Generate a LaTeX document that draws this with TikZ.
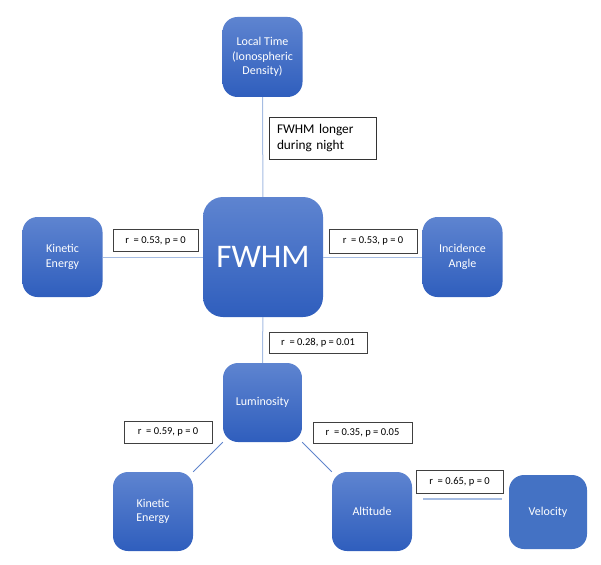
\documentclass[tikz,border=0pt]{standalone}
\usepackage{fontspec}
\setmainfont{Carlito}
\usepackage{tikz}
\usepackage{color}

\definecolor{boxtop}{RGB}{94,132,208}
\definecolor{boxbot}{RGB}{47,94,189}
\definecolor{boxflat}{RGB}{68,114,196}
\definecolor{linklight}{RGB}{165,188,226}
\definecolor{linkblue}{RGB}{96,132,204}

\begin{document}
\begin{tikzpicture}[x=1pt,y=-1pt,
	plain/.style={rounded corners=15pt,text=white,minimum width=80pt,minimum height=80pt,align=center,inner sep=2pt,font=\fontsize{12}{14.5}\selectfont},
	block/.style={plain,top color=boxtop,bottom color=boxbot},
	corr/.style={draw=black!75,line width=0.9pt,fill=white,inner sep=0pt,minimum height=22pt,font=\fontsize{10.5}{12}\selectfont},
	link/.style={draw=linklight,line width=1pt},
	diag/.style={draw=linkblue,line width=0.8pt}]
	\useasboundingbox (0,0) rectangle (601,564);
	\coordinate (c1) at (262.5,57);
	\coordinate (c2) at (263,257);
	\coordinate (c3) at (62.5,257);
	\coordinate (c4) at (462.5,257);
	\coordinate (c5) at (262.5,402.5);
	\coordinate (c6) at (153,511.5);
	\coordinate (c7) at (372,511.5);
	\node[block] (lt) at (c1){Local Time\\(Ionospheric\\Density)};
	\node[block,minimum width=120pt,minimum height=120pt,rounded corners=20pt,font=\fontsize{33}{36}\selectfont] (fw) at (c2){FWHM};
	\node[block] (ke) at (c3){Kinetic\\Energy};
	\node[block] (ia) at (c4){Incidence\\Angle};
	\node[block,minimum width=79pt,minimum height=79pt] (lum) at (c5){Luminosity};
	\node[block,minimum height=79pt] (ke2) at (c6){Kinetic\\Energy};
	\node[block,minimum height=79pt] (alt) at (c7){Altitude};
	\node[plain,fill=boxflat,minimum width=78pt,minimum height=74pt] (vel) at (548,512){Velocity};
	\draw[link] (lt) -- (fw);
	\draw[link] (ke) -- (fw);
	\draw[link] (fw) -- (ia);
	\draw[link] (fw) -- (lum);
	\draw[diag] (lum.south west) -- (ke2.north east);
	\draw[diag] (lum.south east) -- (alt.north west);
	\coordinate (av1) at (423,499);
	\coordinate (av2) at (502,499);
	\draw[draw=linklight,line width=2pt] (av1) -- (av2);
	\node[draw=black!80,line width=0.9pt,fill=white,minimum width=107pt,minimum height=42pt,text width=91pt,inner sep=0pt,align=left,font=\fontsize{13.3}{16}\selectfont] (note) at (322.5,138){FWHM longer\\during night};
	\node[corr,minimum width=85pt] (r1) at (155.5,240.5){r~ = 0.53, p = 0};
	\node[corr,minimum width=88pt,minimum height=24pt] (r2) at (373,241){r~ = 0.53, p = 0};
	\node[corr,minimum width=98pt,minimum height=21pt] (r3) at (318,342.5){r~ = 0.28, p = 0.01};
	\node[corr,minimum width=88pt] (r4) at (168,432){r~ = 0.59, p = 0};
	\node[corr,minimum width=99pt,minimum height=21pt] (r5) at (362.5,432.5){r~ = 0.35, p = 0.05};
	\node[corr,minimum width=87pt,minimum height=23pt] (r6) at (459.5,481.5){r~ = 0.65, p = 0};
\end{tikzpicture}
\end{document}
